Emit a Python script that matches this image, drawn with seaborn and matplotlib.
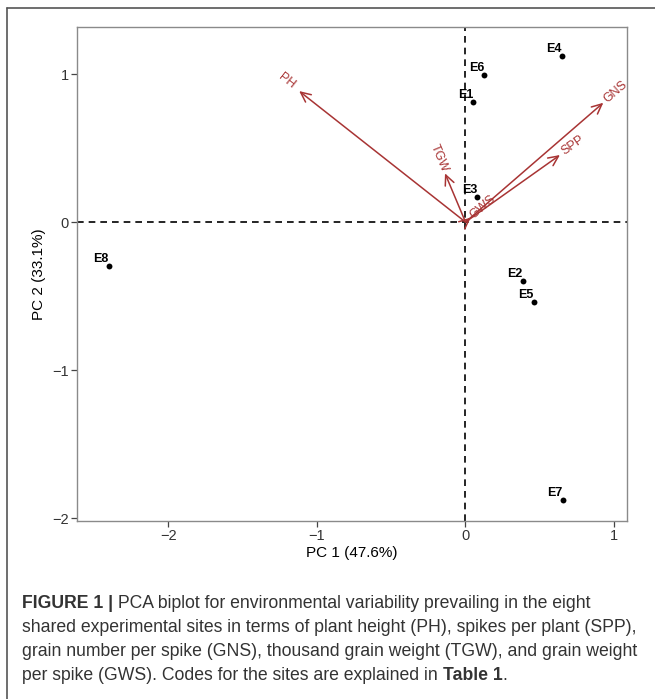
import matplotlib
matplotlib.use("Agg")
import matplotlib.pyplot as plt
import seaborn as sns
import numpy as np
import pandas as pd
from matplotlib.lines import Line2D

# ---- data ----
sites = ["E1", "E2", "E3", "E4", "E5", "E6", "E7", "E8"]
pc1 = [0.053, 0.385, 0.080, 0.650, 0.461, 0.127, 0.655, -2.400]
pc2 = [0.810, -0.398, 0.167, 1.120, -0.543, 0.993, -1.880, -0.300]

variables = ["PH", "TGW", "GWS", "SPP", "GNS"]
load1 = [-1.120, -0.138, 0.035, 0.636, 0.928]
load2 = [0.885, 0.329, 0.030, 0.453, 0.806]

xticks = [-2, -1, 0, 1]
yticks = [-2, -1, 0, 1]
xlabel = "PC 1 (47.6%)"
ylabel = "PC 2 (33.1%)"

caption = [
    [("FIGURE 1 |", "bold"), (" PCA biplot for environmental variability prevailing in the eight", "normal")],
    [("shared experimental sites in terms of plant height (PH), spikes per plant (SPP),", "normal")],
    [("grain number per spike (GNS), thousand grain weight (TGW), and grain weight", "normal")],
    [("per spike (GWS). Codes for the sites are explained in ", "normal"), ("Table 1", "bold"), (".", "normal")],
]

sites_df = pd.DataFrame({"site": sites, "PC1": pc1, "PC2": pc2})

# ---- style ----
sns.set_theme(style="white")
plt.rcParams["font.family"] = ["Liberation Sans", "DejaVu Sans"]

W, H = 655, 699
fig = plt.figure(figsize=(W / 100, H / 100), dpi=100)
ax = fig.add_axes([77 / W, 1 - 521 / H, (627 - 77) / W, (521 - 27) / H])

ax.set_xlim(-2.616, 1.0875)
ax.set_ylim(-2.02, 1.318)

# reference lines
ax.axhline(0, color="black", lw=1.2, ls=(0, (4, 3)), zorder=1)
ax.axvline(0, color="black", lw=1.2, ls=(0, (4, 3)), zorder=1)

# points
sns.scatterplot(data=sites_df, x="PC1", y="PC2", ax=ax, color="black",
                s=18, edgecolor="black", linewidth=0, zorder=3, legend=False)
for s, x, y in zip(sites, pc1, pc2):
    ax.annotate(s, (x, y), xytext=(-8, 7), textcoords="offset pixels",
                ha="center", va="center", fontsize=9, fontweight="bold",
                color="black", zorder=4)

# variable arrows
vcol = "#A83434"
fig.canvas.draw()
o = ax.transData.transform((0, 0))
for v, x, y in zip(variables, load1, load2):
    ax.annotate("", xy=(x, y), xytext=(0, 0),
                arrowprops=dict(arrowstyle="->,head_length=0.6,head_width=0.28",
                                color=vcol, lw=1.1, shrinkA=0, shrinkB=0),
                zorder=2)
    p = ax.transData.transform((x, y))
    d = p - o
    ang = np.degrees(np.arctan2(d[1], d[0]))
    u = d / np.hypot(*d)
    rot = ang - 180 if abs(ang) > 90 else ang
    off = 16
    ax.annotate(v, (x, y), xytext=(u[0] * off, u[1] * off), textcoords="offset pixels",
                ha="center", va="center", rotation=rot, rotation_mode="anchor",
                fontsize=9, color=vcol, zorder=4)

# axes styling
ax.set_xticks(xticks)
ax.set_yticks(yticks)
ax.set_xticklabels([str(t).replace("-", "\u2212") for t in xticks])
ax.set_yticklabels([str(t).replace("-", "\u2212") for t in yticks])
ax.tick_params(axis="both", which="both", length=4, width=0.9, color="#444444",
               labelsize=10.5, labelcolor="#333333", direction="out", pad=2,
               bottom=True, left=True)
for sp in ax.spines.values():
    sp.set_color("#8a8a8a")
    sp.set_linewidth(1.0)
ax.set_xlabel(xlabel, fontsize=11, color="black", labelpad=2)
ax.set_ylabel(ylabel, fontsize=11, color="black", labelpad=4)
ax.grid(False)

# outer frame (top and left)
fig.add_artist(Line2D([7 / W, 1.0], [1 - 8 / H, 1 - 8 / H], transform=fig.transFigure,
                      color="#555555", lw=1.2))
fig.add_artist(Line2D([7 / W, 7 / W], [1 - 8 / H, 0.0], transform=fig.transFigure,
                      color="#555555", lw=1.2))

# caption (mixed weights chained piece by piece)
cap_size = 12.7
cap_color = "#333333"
baselines = [608, 632, 656, 680]
for line, yb in zip(caption, baselines):
    prev = None
    for txt, wt in line:
        if prev is None:
            prev = fig.text(22 / W, 1 - yb / H, txt, fontsize=cap_size, fontweight=wt,
                            color=cap_color, ha="left", va="baseline")
        else:
            prev = ax.annotate(txt, xy=(1, 0), xycoords=prev, xytext=(0, 0),
                               textcoords="offset pixels", ha="left", va="bottom",
                               fontsize=cap_size, fontweight=wt, color=cap_color,
                               annotation_clip=False)

plt.savefig("out.png", dpi=100)
